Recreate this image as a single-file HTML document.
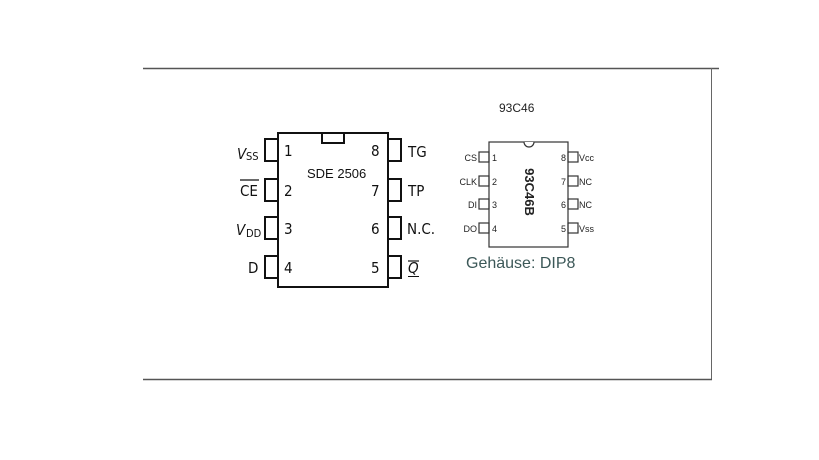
<!DOCTYPE html>
<html><head><meta charset="utf-8"><style>
html,body{margin:0;padding:0;background:#fff;}
svg{display:block;}
</style></head><body>
<svg width="819" height="460" viewBox="0 0 819 460" xmlns="http://www.w3.org/2000/svg">
<rect width="819" height="460" fill="#fff"/>
<!-- frame -->
<line x1="143" y1="68.5" x2="719" y2="68.5" stroke="#555" stroke-width="1.5"/>
<line x1="711.5" y1="68" x2="711.5" y2="380" stroke="#666" stroke-width="1"/>
<line x1="143" y1="379.5" x2="712" y2="379.5" stroke="#555" stroke-width="1.5"/>

<!-- SDE 2506 chip -->
<g fill="none" stroke="#111" stroke-width="2">
<rect x="278" y="133" width="110" height="154"/>
<rect x="322" y="133" width="22" height="10"/>
<path d="M278 139 H265 V161 H278"/>
<path d="M278 179 H265 V201 H278"/>
<path d="M278 217 H265 V239 H278"/>
<path d="M278 256 H265 V278 H278"/>
<path d="M388 139 H401 V161 H388"/>
<path d="M388 179 H401 V201 H388"/>
<path d="M388 217 H401 V239 H388"/>
<path d="M388 256 H401 V278 H388"/>
</g>
<g font-family="DejaVu Sans Condensed, DejaVu Sans, sans-serif" font-size="15" fill="#111">
<text x="284" y="156">1</text>
<text x="284" y="196">2</text>
<text x="284" y="234">3</text>
<text x="284" y="273">4</text>
<text x="371" y="156">8</text>
<text x="371" y="196">7</text>
<text x="371" y="234">6</text>
<text x="371" y="273">5</text>
<text x="237" y="159" font-style="italic">V</text><text x="246" y="160" font-size="11">SS</text>
<text x="240" y="196">CE</text>
<line x1="240" y1="180" x2="259" y2="180" stroke="#111" stroke-width="1.3"/>
<text x="236" y="235" font-style="italic">V</text><text x="246" y="237" font-size="11">DD</text>
<text x="248" y="273">D</text>
<text x="408" y="157">TG</text>
<text x="408" y="196">TP</text>
<text x="407" y="234">N.C.</text>
<text x="408" y="273" font-style="italic">Q</text>
<line x1="408" y1="261" x2="419" y2="261" stroke="#111" stroke-width="1.2"/>
<line x1="408" y1="276.5" x2="419" y2="276.5" stroke="#111" stroke-width="1"/>
</g>
<text x="307" y="178" font-family="Liberation Sans, sans-serif" font-size="13" fill="#111">SDE 2506</text>

<!-- 93C46 chip -->
<text x="499" y="112" font-family="Liberation Sans, sans-serif" font-size="12" fill="#222">93C46</text>
<g fill="none" stroke="#333" stroke-width="1.2">
<rect x="489" y="142" width="79" height="105"/>
<path d="M524 142 A5 5 0 0 0 534 142" fill="#fff"/>
<rect x="479" y="152" width="10" height="10"/>
<rect x="479" y="176" width="10" height="10"/>
<rect x="479" y="199" width="10" height="10"/>
<rect x="479" y="223" width="10" height="10"/>
<rect x="568" y="152" width="10" height="10"/>
<rect x="568" y="176" width="10" height="10"/>
<rect x="568" y="199" width="10" height="10"/>
<rect x="568" y="223" width="10" height="10"/>
</g>
<g font-family="Liberation Sans, sans-serif" font-size="9" fill="#222">
<text x="477" y="161" text-anchor="end">CS</text>
<text x="477" y="185" text-anchor="end">CLK</text>
<text x="477" y="208" text-anchor="end">DI</text>
<text x="477" y="232" text-anchor="end">DO</text>
<text x="492" y="161">1</text>
<text x="492" y="185">2</text>
<text x="492" y="208">3</text>
<text x="492" y="232">4</text>
<text x="566" y="161" text-anchor="end">8</text>
<text x="566" y="185" text-anchor="end">7</text>
<text x="566" y="208" text-anchor="end">6</text>
<text x="566" y="232" text-anchor="end">5</text>
<text x="579" y="161">Vcc</text>
<text x="579" y="185">NC</text>
<text x="579" y="208">NC</text>
<text x="579" y="232">Vss</text>
</g>
<text transform="translate(525,192) rotate(90)" text-anchor="middle" font-family="Liberation Sans, sans-serif" font-weight="bold" font-size="13" fill="#222">93C46B</text>
<text x="466" y="268" font-family="Liberation Sans, sans-serif" font-size="16" fill="#3c5858">Gehäuse: DIP8</text>
</svg>
</body></html>
